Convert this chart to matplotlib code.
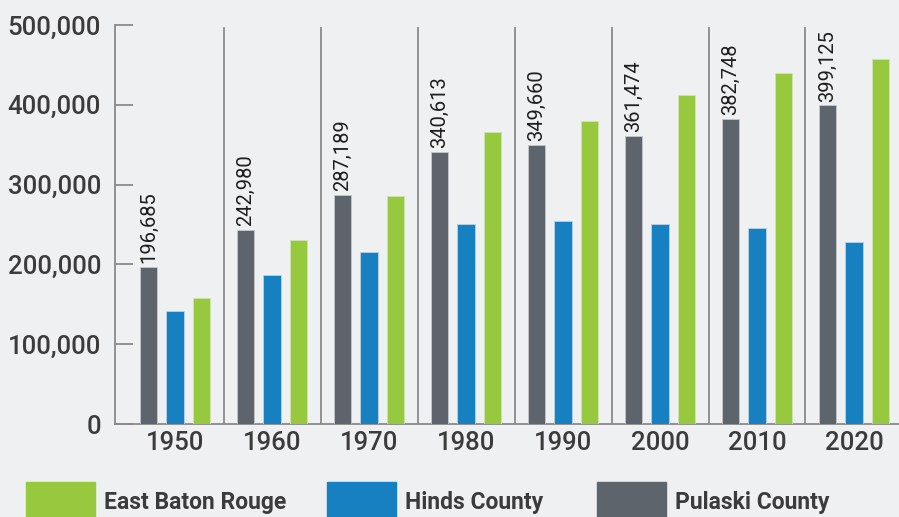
"""
Population of three counties by census year, 1950-2020
"""
import matplotlib.pyplot as plt
from matplotlib.patches import Rectangle
import numpy as np

years = ["1950", "1960", "1970", "1980", "1990", "2000", "2010", "2020"]
pulaski = [196685, 242980, 287189, 340613, 349660, 361474, 382748, 399125]
hinds = [142164, 187045, 214973, 250998, 254441, 250800, 245285, 227742]
baton_rouge = [158236, 230058, 285167, 366191, 380105, 412852, 440171, 456781]

BG = "#eff0f2"
GRAY = "#5d646c"
BLUE = "#1780c0"
GREEN = "#96c93d"
TEXT = "#3b3b3b"

plt.rcParams["font.family"] = ["Roboto", "DejaVu Sans"]


def main():
    fig = plt.figure(figsize=(8.99, 5.17), dpi=100, facecolor=BG)
    ax = fig.add_axes([115 / 899, 1 - 424 / 517, 1 - 115 / 899, (424 - 25) / 517])
    ax.set_facecolor(BG)

    x = np.arange(len(years))
    off = 0.273
    w = 0.178
    ax.bar(x - off, pulaski, w, color=GRAY, edgecolor="#c5c8cc", linewidth=0.6, zorder=3)
    ax.bar(x, hinds, w, color=BLUE, edgecolor="#b9d3e6", linewidth=0.6, zorder=3)
    ax.bar(x + off, baton_rouge, w, color=GREEN, edgecolor="#cfe3b0", linewidth=0.6, zorder=3)

    for xi, v in zip(x, pulaski):
        ax.text(xi - off, v + 5000, f"{v:,}", rotation=90, ha="center", va="bottom",
                fontsize=14.5, color="#1e1e1e")

    # separators between decades
    for xi in x[1:]:
        ax.plot([xi - 0.5, xi - 0.5], [0, 496000], color="#8a8a8a", lw=1.3, zorder=2)

    ax.set_xlim(-0.619, 7.464)
    ax.set_ylim(0, 500000)
    ax.set_yticks(np.arange(0, 500001, 100000))
    ax.set_yticklabels([f"{t:,}" for t in range(0, 500001, 100000)],
                       fontsize=18.5, color=TEXT, fontweight="medium")
    ax.set_xticks(x)
    ax.set_xticklabels(years, fontsize=18.5, color=TEXT, fontweight="medium")
    ax.tick_params(axis="y", direction="in", length=13, width=1.3, color="#8a8a8a", pad=10)
    ax.tick_params(axis="x", length=0, pad=5)

    for s in ["top", "right"]:
        ax.spines[s].set_visible(False)
    ax.spines["left"].set_color("#8a8a8a")
    ax.spines["left"].set_linewidth(1.3)
    ax.spines["bottom"].set_color("#8a8a8a")
    ax.spines["bottom"].set_linewidth(1.3)

    # legend drawn by hand along the bottom
    items = [(26, GREEN, "East Baton Rouge"), (327, BLUE, "Hinds County"),
             (597, GRAY, "Pulaski County")]
    for px, col, label in items:
        fig.add_artist(Rectangle((px / 899, 0), 69 / 899, 35 / 517,
                                 transform=fig.transFigure, color=col))
        fig.text((px + 78) / 899, 1 - 502 / 517, label, fontsize=16.5,
                 fontweight="bold", color=TEXT, va="center", ha="left")

    fig.savefig("out.png", dpi=100, facecolor=BG)


if __name__ == "__main__":
    main()
